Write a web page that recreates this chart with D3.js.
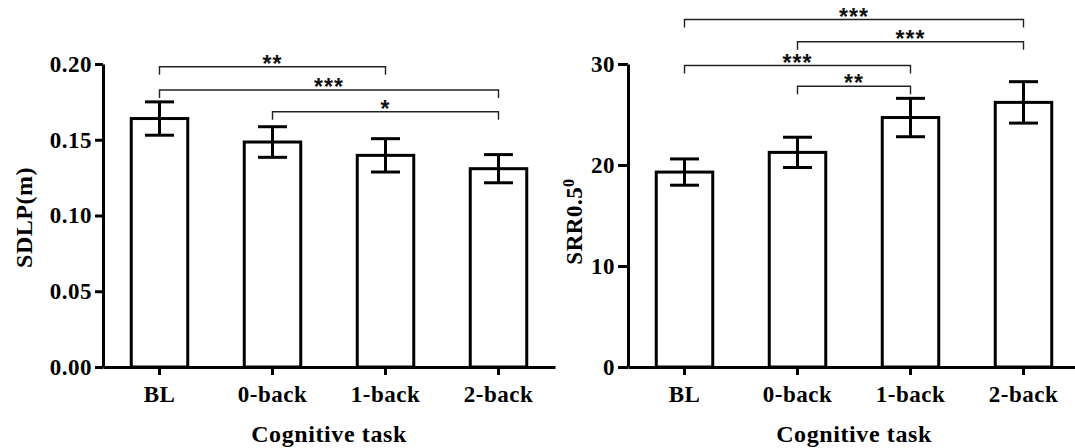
<!DOCTYPE html>
<html>
<head>
<meta charset="utf-8">
<script src="https://cdn.jsdelivr.net/npm/d3@7"></script>
<style>
  html, body { margin:0; padding:0; background:#fff; }
  svg text { font-family: "Liberation Serif", "Times New Roman", serif; font-weight: bold; }
</style>
</head>
<body>
<div id="chart"></div>
<script>
// two bar charts with SEM error bars and significance brackets
const categories = ['BL', '0-back', '1-back', '2-back'];

const sdlpMean = [0.164, 0.1485, 0.1397, 0.1309];
const sdlpErr  = [0.011, 0.0101, 0.011, 0.0093];
const sdlpTicks = [0, 0.05, 0.10, 0.15, 0.20];
const sdlpBrackets = [
  {from:'BL', to:'1-back', y:0.1982, label:'**'},
  {from:'BL', to:'2-back', y:0.1828, label:'***'},
  {from:'0-back', to:'2-back', y:0.1685, label:'*'}
];

const srrMean = [19.3, 21.25, 24.7, 26.2];
const srrErr  = [1.3, 1.5, 1.9, 2.05];
const srrTicks = [0, 10, 20, 30];
const srrBrackets = [
  {from:'BL', to:'2-back', y:34.4, label:'***'},
  {from:'0-back', to:'2-back', y:32.2, label:'***'},
  {from:'BL', to:'1-back', y:29.85, label:'***'},
  {from:'0-back', to:'1-back', y:27.8, label:'**'}
];

const W = 1075, H = 448;
const svg = d3.select('#chart').append('svg')
  .attr('width', W)
  .attr('height', H);

function panel(opt){
  const innerW = 452, innerH = 303;
  const g = svg.append('g')
    .attr('transform', `translate(${opt.left},64)`);

  const x = d3.scaleBand()
    .domain(categories)
    .range([0, innerW])
    .paddingInner(0.5)
    .paddingOuter(0.25);
  const y = d3.scaleLinear()
    .domain(opt.domain)
    .range([innerH, 0]);

  // bars
  g.selectAll('rect.bar')
    .data(categories)
    .enter().append('rect')
    .attr('class','bar')
    .attr('x', d => x(d))
    .attr('y', (d,i) => y(opt.mean[i]))
    .attr('width', x.bandwidth())
    .attr('height', (d,i) => y(0) - y(opt.mean[i]))
    .attr('fill','#fff')
    .attr('stroke','#000')
    .attr('stroke-width',3);

  // error bars
  const cap = 29;
  const eb = g.selectAll('g.err')
    .data(categories)
    .enter().append('g')
    .attr('class','err')
    .attr('stroke','#000')
    .attr('stroke-width',3);
  eb.append('line')
    .attr('x1', d => x(d) + x.bandwidth()/2)
    .attr('x2', d => x(d) + x.bandwidth()/2)
    .attr('y1', (d,i) => y(opt.mean[i] + opt.err[i]))
    .attr('y2', (d,i) => y(opt.mean[i] - opt.err[i]));
  eb.append('line')
    .attr('x1', d => x(d) + x.bandwidth()/2 - cap/2)
    .attr('x2', d => x(d) + x.bandwidth()/2 + cap/2)
    .attr('y1', (d,i) => y(opt.mean[i] + opt.err[i]))
    .attr('y2', (d,i) => y(opt.mean[i] + opt.err[i]));
  eb.append('line')
    .attr('x1', d => x(d) + x.bandwidth()/2 - cap/2)
    .attr('x2', d => x(d) + x.bandwidth()/2 + cap/2)
    .attr('y1', (d,i) => y(opt.mean[i] - opt.err[i]))
    .attr('y2', (d,i) => y(opt.mean[i] - opt.err[i]));

  // axes
  const yAxis = g.append('g')
    .call(d3.axisLeft(y).tickValues(opt.ticks).tickFormat(opt.fmt)
      .tickSize(opt.tick).tickSizeOuter(0).tickPadding(3));
  const xAxis = g.append('g')
    .attr('transform', `translate(0,${innerH})`)
    .call(d3.axisBottom(x).tickSize(8).tickSizeOuter(0).tickPadding(6));
  [yAxis, xAxis].forEach(a => {
    a.select('.domain').attr('stroke-width',3);
    a.selectAll('.tick line').attr('stroke-width',3);
    a.selectAll('.tick text').attr('fill','#000')
      .style('font-size','23px').style('letter-spacing','0.5px');
  });
  xAxis.selectAll('.tick text').attr('dy','0.9em');

  // significance brackets
  const cx = d => x(d) + x.bandwidth()/2;
  const br = g.selectAll('g.br')
    .data(opt.brackets)
    .enter().append('g')
    .attr('class','br');
  br.append('path')
    .attr('d', d => `M${cx(d.from)},${y(d.y)+8}V${y(d.y)}H${cx(d.to)}V${y(d.y)+8}`)
    .attr('fill','none')
    .attr('stroke','#222')
    .attr('stroke-width',1.4);
  br.append('text')
    .attr('x', d => (cx(d.from) + cx(d.to))/2)
    .attr('y', d => y(d.y) + 5)
    .attr('text-anchor','middle')
    .style('font-family','"Liberation Sans", Arial, sans-serif')
    .style('font-weight','bold')
    .style('font-size','23px')
    .style('letter-spacing','1px')
    .attr('fill','#111')
    .text(d => d.label);

  // titles
  g.append('text')
    .attr('x', innerW/2)
    .attr('y', innerH + 75)
    .attr('text-anchor','middle')
    .style('font-size','24px')
    .style('letter-spacing','0.6px')
    .text('Cognitive task');

  const yl = g.append('text')
    .attr('transform', `translate(${opt.ylabX},${innerH/2 + opt.ylabDy}) rotate(-90)`)
    .attr('text-anchor','middle')
    .style('font-size', opt.ylabSize)
    .style('letter-spacing','0.5px');
  yl.append('tspan').text(opt.ylabel);
  if (opt.sup) {
    yl.append('tspan')
      .attr('baseline-shift','super')
      .style('font-size','16px')
      .text(opt.sup);
  }
}

panel({
  left:103, domain:[0,0.2], mean:sdlpMean, err:sdlpErr, ticks:sdlpTicks,
  fmt:d3.format('.2f'), tick:8, brackets:sdlpBrackets,
  ylabel:'SDLP(m)', ylabX:-71, ylabDy:2, ylabSize:'24px'
});
panel({
  left:628, domain:[0,30], mean:srrMean, err:srrErr, ticks:srrTicks,
  fmt:d3.format('d'), tick:10, brackets:srrBrackets,
  ylabel:'SRR0.5', sup:'0', ylabX:-46, ylabDy:6, ylabSize:'23px'
});
</script>
</body>
</html>
